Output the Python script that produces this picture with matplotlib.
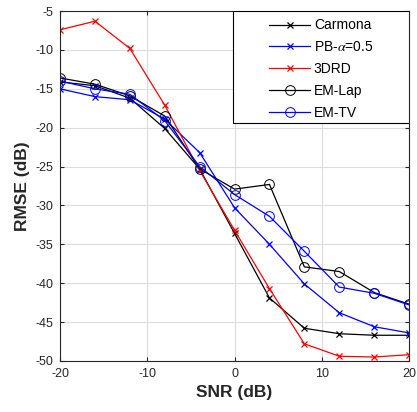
import matplotlib
matplotlib.use("Agg")
import matplotlib.pyplot as plt
from matplotlib.patches import Rectangle

snr = [-20, -16, -12, -8, -4, 0, 4, 8, 12, 16, 20]
carmona = [-14.1, -14.6, -16.2, -20.1, -25.3, -33.6, -41.9, -45.8, -46.5, -46.7, -46.7]
pb = [-15.0, -16.0, -16.4, -18.9, -23.2, -30.3, -35.0, -40.1, -43.8, -45.6, -46.4]
drd = [-7.4, -6.3, -9.8, -17.1, -25.5, -33.2, -40.7, -47.8, -49.4, -49.5, -49.2]
emlap = [-13.6, -14.4, -15.9, -18.5, -25.3, -27.9, -27.3, -37.9, -38.5, -41.2, -42.7]
emtv = [-14.0, -15.0, -15.7, -19.1, -25.0, -28.6, -31.4, -35.9, -40.5, -41.3, -42.8]
labels = ["Carmona", r"PB-$\alpha$=0.5", "3DRD", "EM-Lap", "EM-TV"]

plt.rcParams['font.family'] = ['Liberation Sans', 'DejaVu Sans']
plt.rcParams['axes.unicode_minus'] = False
plt.rcParams['mathtext.fontset'] = 'stix'

fig = plt.figure(figsize=(4.17, 4.12), dpi=100)
ax = fig.add_axes([0.144, 0.124, 0.837, 0.849])

lw = 0.9
ax.plot(snr, carmona, color='black', marker='x', ms=5, lw=lw, mew=0.9, label=labels[0])
ax.plot(snr, pb, color='#0000ff', marker='x', ms=5, lw=lw, mew=0.9, label=labels[1])
ax.plot(snr, drd, color='#ff0000', marker='x', ms=5, lw=lw, mew=0.9, label=labels[2])
ax.plot(snr, emlap, color='black', marker='o', ms=7, mfc='none', lw=lw, mew=0.7, label=labels[3])
ax.plot(snr, emtv, color='#0000ff', marker='o', ms=7, mfc='none', lw=lw, mew=0.7, label=labels[4])

ax.set_xlim(-20, 20)
ax.set_ylim(-50, -5)
ax.set_xticks([-20, -10, 0, 10, 20])
ax.set_yticks(list(range(-50, -4, 5)))
ax.grid(True, color='#dcdcdc', lw=0.8)
ax.set_axisbelow(True)
ax.tick_params(direction='in', top=True, right=True, labelsize=9, colors='#262626', length=3, pad=5)
for s in ax.spines.values():
    s.set_color('#262626')
    s.set_linewidth(0.8)

ax.set_xlabel('SNR (dB)', fontsize=12.5, fontweight='bold', color='#262626', labelpad=4)
ax.set_ylabel('RMSE (dB)', fontsize=12.5, fontweight='bold', color='#262626', labelpad=4)

# legend frame (MATLAB style, wide box)
frame = Rectangle((0.495, 0.68), 0.505, 0.32, transform=ax.transAxes, facecolor='white',
                  edgecolor='black', lw=0.8, zorder=5)
ax.add_patch(frame)
leg = ax.legend(loc='upper left', bbox_to_anchor=(0.592, 0.985), fontsize=10, handlelength=3.0,
                borderaxespad=0.0, frameon=False, borderpad=0.15,
                labelspacing=0.56, handletextpad=0.25)
leg.set_zorder(6)

fig.savefig('out.png', dpi=100)
